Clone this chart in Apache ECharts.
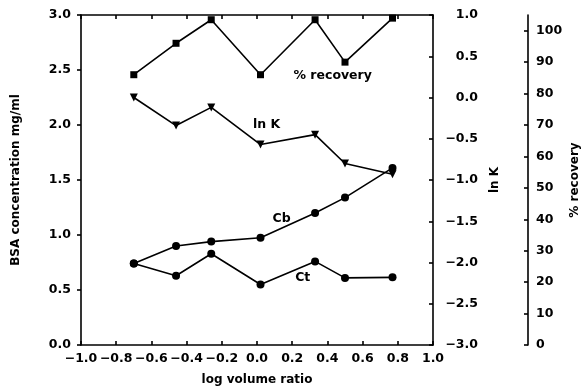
<!DOCTYPE html>
<html>
<head>
<meta charset="utf-8">
<script src="https://cdn.jsdelivr.net/npm/echarts@6/dist/echarts.min.js"></script>
<style>
  html, body { margin: 0; padding: 0; background: #fff; }
  #chart { width: 581px; height: 387px; }
</style>
</head>
<body>
<div id="chart"></div>
<script>
// log volume ratio for each run
const logVolumeRatio = [-0.70, -0.46, -0.26, 0.02, 0.33, 0.50, 0.77]
// BSA concentrations, mg/ml
const cb = [0.74, 0.90, 0.94, 0.975, 1.20, 1.34, 1.61]
const ct = [0.74, 0.63, 0.83, 0.55, 0.76, 0.61, 0.615]
// ln K (right axis)
const lnK = [0.0, -0.34, -0.12, -0.57, -0.45, -0.80, -0.93]
// % recovery (far right axis)
const recovery = [86, 96, 103.5, 86, 103.5, 90, 104]
const recoveryTicks = [0, 10, 20, 30, 40, 50, 60, 70, 80, 90, 100]

const FONT = 'DejaVu Sans'
const INK = '#000'

const pairs = (ys) => logVolumeRatio.map((x, i) => [x, ys[i]])
const fmt = (v) => (Math.abs(v) < 1e-9 ? 0 : v).toFixed(1).replace('-', '\u2212')

const labelText = { color: INK, fontFamily: FONT, fontWeight: 'bold', fontSize: 12.5 }
const nameText = { color: INK, fontFamily: FONT, fontWeight: 'bold', fontSize: 12 }
const line = { lineStyle: { color: INK, width: 1.6 } }

const note = (coord, text) => ({
    symbol: 'circle',
    symbolSize: 0,
    silent: true,
    data: [{ coord, value: text }],
    label: { show: true, position: 'inside', formatter: text, ...nameText, fontSize: 12.5 }
})

const lineSeries = (name, data, yAxisIndex, symbol, size, extra) => ({
    name, type: 'line', data, yAxisIndex, symbol, symbolSize: size,
    lineStyle: { color: INK, width: 1.6 },
    itemStyle: { color: INK },
    animation: false,
    z: 3,
    ...extra
})

const chart = echarts.init(document.getElementById('chart'), null, { renderer: 'canvas' })
chart.setOption({
    backgroundColor: '#fff',
    animation: false,
    grid: { left: 81, top: 15, right: 148, bottom: 42, containLabel: false, outerBoundsMode: 'none' },
    xAxis: [
        {
            type: 'value', min: -1, max: 1, interval: 0.2, position: 'bottom',
            name: 'log volume ratio', nameLocation: 'middle', nameGap: 29, nameMoveOverlap: false,
            nameTextStyle: nameText,
            axisLine: { onZero: false, ...line },
            axisTick: { inside: true, length: 4, ...line },
            axisLabel: { margin: 7, formatter: fmt, ...labelText },
            splitLine: { show: false }
        },
        {
            type: 'value', min: -1, max: 1, interval: 0.2, position: 'top',
            axisLine: { onZero: false, ...line },
            axisTick: { inside: true, length: 4, ...line },
            axisLabel: { show: false },
            splitLine: { show: false }
        }
    ],
    yAxis: [
        {
            type: 'value', min: 0, max: 3, interval: 0.5, position: 'left',
            name: 'BSA concentration mg/ml', nameLocation: 'middle', nameRotate: 90, nameGap: 59,
            nameMoveOverlap: false, nameTextStyle: nameText,
            axisLine: { show: true, onZero: false, ...line },
            axisTick: { show: true, inside: false, length: 4, ...line },
            axisLabel: { margin: 10, formatter: fmt, ...labelText },
            splitLine: { show: false }
        },
        {
            type: 'value', min: -3, max: 1, interval: 0.5, position: 'right',
            name: 'ln K', nameLocation: 'middle', nameRotate: 90, nameGap: 56,
            nameMoveOverlap: false, nameTextStyle: nameText,
            axisLine: { show: true, onZero: false, ...line },
            axisTick: { show: true, inside: true, length: 4, ...line },
            axisLabel: { margin: 45, align: 'right', formatter: fmt, ...labelText },
            splitLine: { show: false }
        },
        {
            type: 'value', min: 0, max: 105, position: 'right', offset: 95,
            name: '% recovery', nameLocation: 'middle', nameRotate: 90, nameGap: 41,
            nameMoveOverlap: false, nameTextStyle: nameText,
            axisLine: { show: true, onZero: false, ...line },
            axisTick: { show: true, inside: true, length: 4, customValues: recoveryTicks, ...line },
            axisLabel: { margin: 8, customValues: recoveryTicks, ...labelText },
            splitLine: { show: false }
        }
    ],
    series: [
        lineSeries('% recovery', pairs(recovery), 2, 'rect', 7, { markPoint: note([0.43, 85.6], '% recovery') }),
        lineSeries('ln K', pairs(lnK), 1, 'triangle', 8, { symbolRotate: 180, markPoint: note([0.055, -0.33], 'ln K') }),
        lineSeries('Cb', pairs(cb), 0, 'circle', 8, { markPoint: note([0.14, 1.145], 'Cb') }),
        lineSeries('Ct', pairs(ct), 0, 'circle', 8, { markPoint: note([0.26, 0.61], 'Ct') })
    ]
})
</script>
</body>
</html>
